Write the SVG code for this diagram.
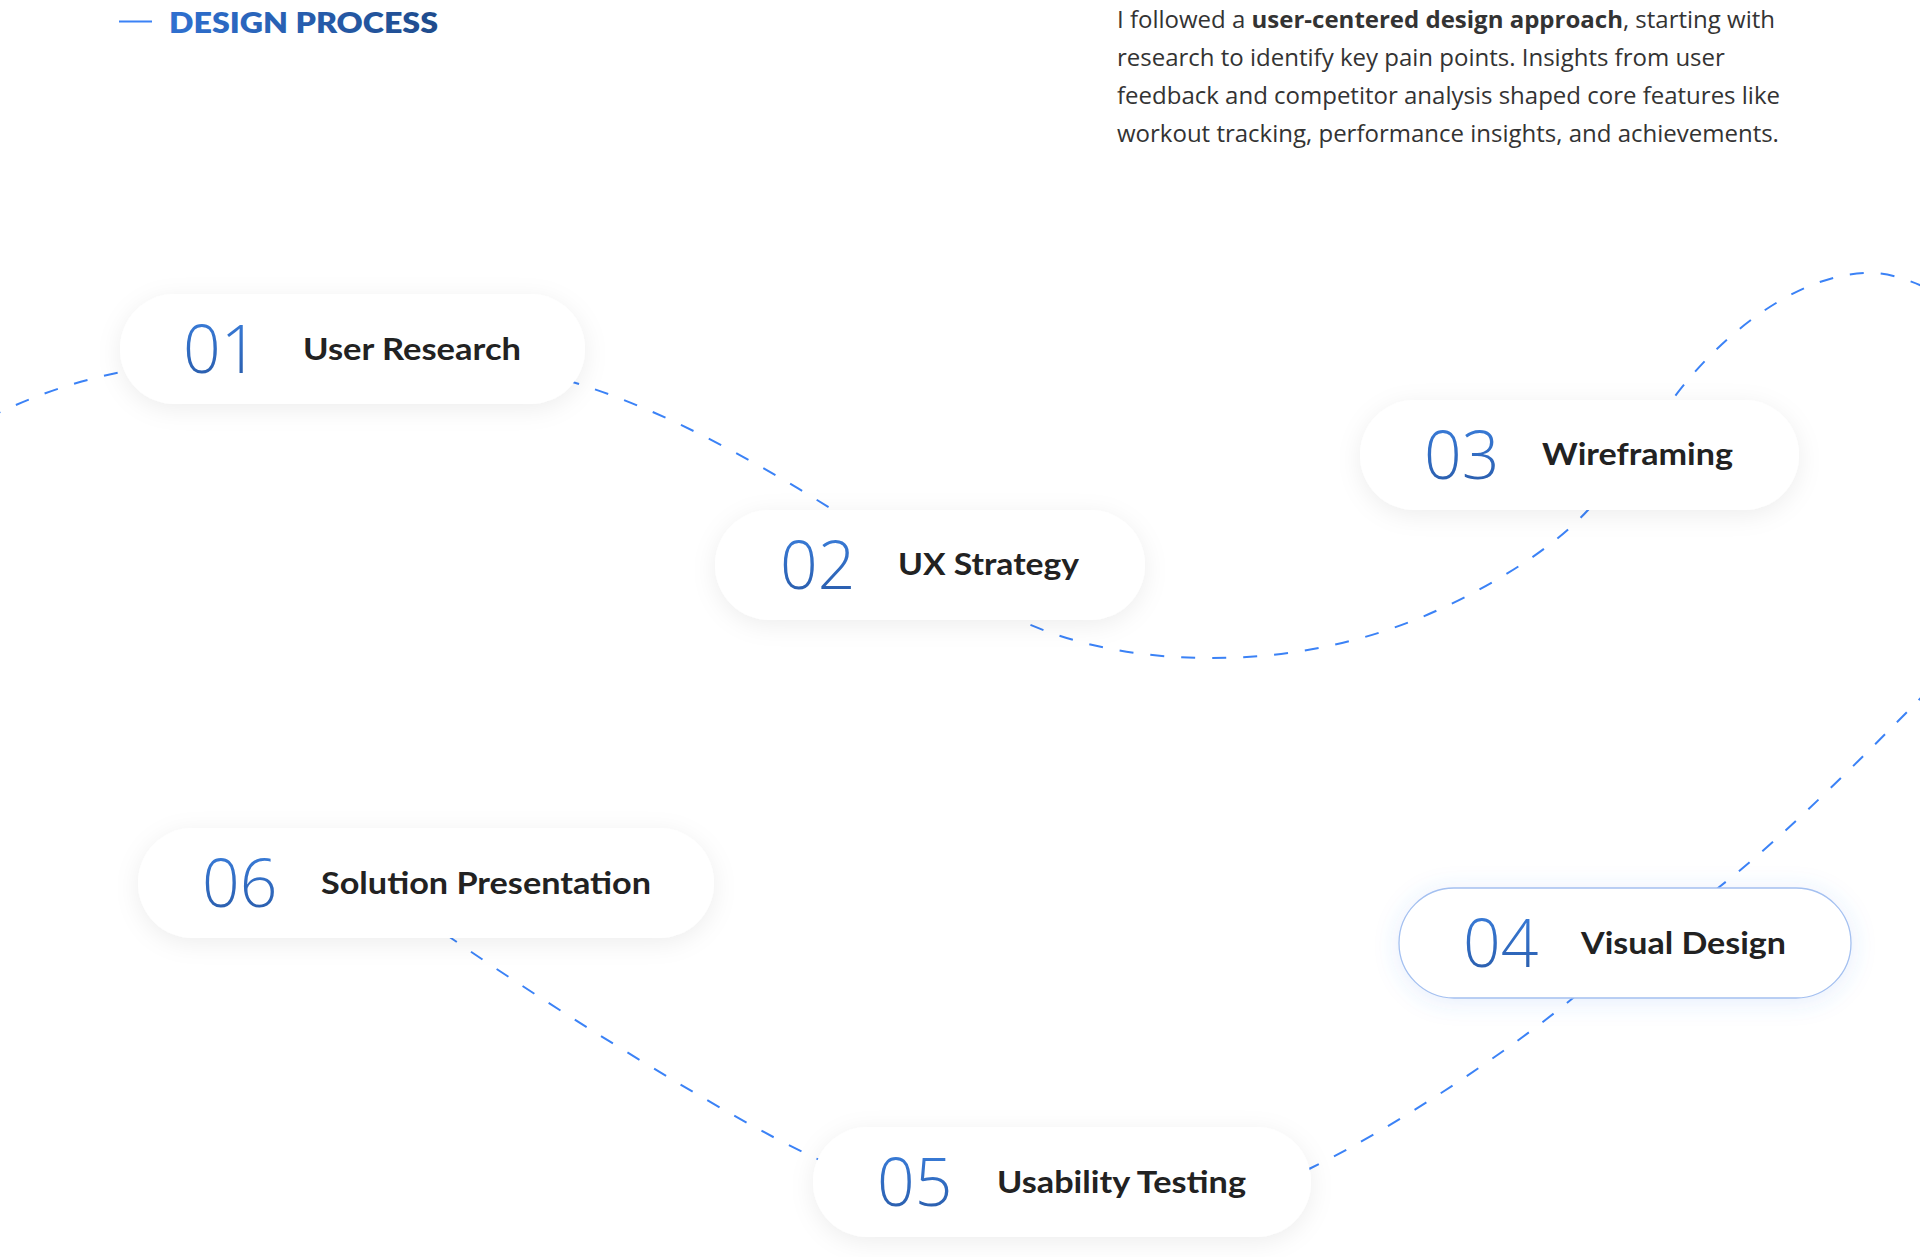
<svg xmlns="http://www.w3.org/2000/svg" width="1920" height="1257" viewBox="0 0 1920 1257">
<defs>
<linearGradient id="numGrad" x1="0" y1="0" x2="0" y2="1">
<stop offset="0" stop-color="#3d84e4"/>
<stop offset="1" stop-color="#2757a3"/>
</linearGradient>
<linearGradient id="titleGrad" x1="0" y1="0" x2="1" y2="0">
<stop offset="0" stop-color="#2f70d0"/>
<stop offset="1" stop-color="#1f4b8c"/>
</linearGradient>
<filter id="shadow" x="-20%" y="-50%" width="140%" height="200%">
<feDropShadow dx="0" dy="5" stdDeviation="12" flood-color="#000" flood-opacity="0.07"/>
</filter>
<filter id="glow" x="-20%" y="-50%" width="140%" height="200%">
<feDropShadow dx="0" dy="3" stdDeviation="12" flood-color="#4a80e8" flood-opacity="0.14"/>
</filter>
</defs>
<style>
.pill{fill:#fff;filter:url(#shadow)}
.pill.active{stroke:#a4c0f0;stroke-width:1.3;filter:url(#glow)}
.num{font-family:"Open Sans",sans-serif;font-weight:300;font-size:66px;fill:url(#numGrad)}
.label{font-family:Lato,"Liberation Sans",sans-serif;font-weight:700;font-size:30px;fill:#222}
.conn{fill:none;stroke:#3b82f6;stroke-width:2;stroke-dasharray:14 17}
.para{font-family:"Open Sans",sans-serif;font-size:24px;fill:#333}
.title{font-family:Lato,"Liberation Sans",sans-serif;font-weight:800;font-size:28px;fill:url(#titleGrad)}
</style>
<rect width="1920" height="1257" fill="#fff"/>
<g id="header">
<line x1="119" y1="21.5" x2="152" y2="21.5" stroke="#3b82f6" stroke-width="2"/>
<text class="title" x="169" y="33" textLength="269" lengthAdjust="spacingAndGlyphs">DESIGN PROCESS</text>
</g>
<g id="intro" class="para">
<text x="1117" y="28">I followed a <tspan font-weight="700">user-centered design approach</tspan>, starting with</text>
<text x="1117" y="66">research to identify key pain points. Insights from user</text>
<text x="1117" y="104">feedback and competitor analysis shaped core features like</text>
<text x="1117" y="142">workout tracking, performance insights, and achievements.</text>
</g>
<g id="connectors">
<path class="conn" d="M -40,432 C 20,400 70,382 122,372 C 200,357 435,336 585,386 C 665,412 750,458 830,508 C 890,545 959,593 1019,620 C 1079,647 1142,658 1212,658 C 1282,658 1352,646 1422,617 C 1477,594 1548,554 1588,510 C 1618,477 1648,430 1673,399 C 1720,335 1800,271 1873,273 C 1903,274 1935,292 1960,305"/>
<path class="conn" d="M 1950,668 C 1880,740 1790,832 1718,888 C 1688,913 1608,969 1573,998 C 1508,1052 1390,1130 1311,1168 C 1231,1211 903,1199 813,1157 C 723,1115 540,1000 451,938 C 426,920 410,908 400,900"/>
</g>
<g id="node-01">
<rect class="pill" x="120" y="294" width="465" height="110" rx="55"/>
<text class="num" x="183" y="373">01</text>
<text class="label" x="303" y="360" textLength="218" lengthAdjust="spacingAndGlyphs">User Research</text>
</g>
<g id="node-02">
<rect class="pill" x="715" y="510" width="430" height="110" rx="55"/>
<text class="num" x="780" y="589">02</text>
<text class="label" x="898" y="575" textLength="181" lengthAdjust="spacingAndGlyphs">UX Strategy</text>
</g>
<g id="node-03">
<rect class="pill" x="1360" y="400" width="439" height="110" rx="55"/>
<text class="num" x="1424" y="479">03</text>
<text class="label" x="1542" y="465" textLength="191" lengthAdjust="spacingAndGlyphs">Wireframing</text>
</g>
<g id="node-04">
<rect class="pill active" x="1399" y="888" width="452" height="110" rx="55"/>
<text class="num" x="1463" y="967">04</text>
<text class="label" x="1581" y="954" textLength="205" lengthAdjust="spacingAndGlyphs">Visual Design</text>
</g>
<g id="node-05">
<rect class="pill" x="813" y="1127" width="498" height="110" rx="55"/>
<text class="num" x="877" y="1206">05</text>
<text class="label" x="997" y="1193" textLength="249" lengthAdjust="spacingAndGlyphs">Usability Testing</text>
</g>
<g id="node-06">
<rect class="pill" x="138" y="828" width="576" height="110" rx="55"/>
<text class="num" x="202" y="907">06</text>
<text class="label" x="321" y="894" textLength="330" lengthAdjust="spacingAndGlyphs">Solution Presentation</text>
</g>
</svg>
